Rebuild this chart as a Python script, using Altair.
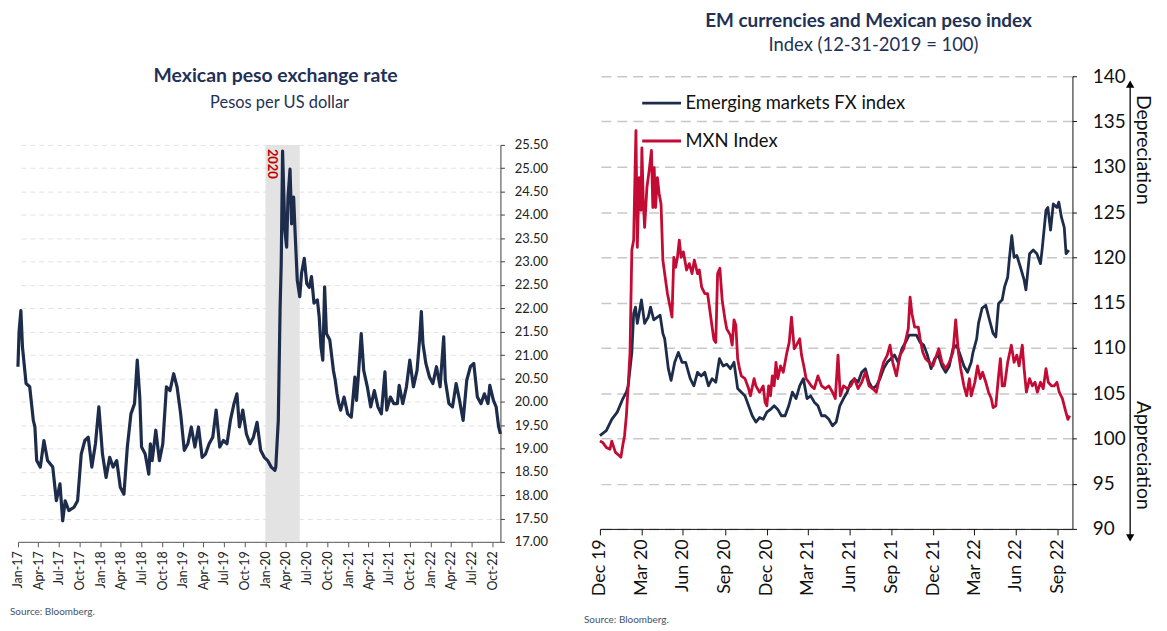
import altair as alt
import pandas as pd

# ---------------- Left panel: USD/MXN (pesos per US dollar) ----------------
# day offsets from 2017-01-01
peso_day = [0, 5, 13, 20, 36, 52, 68, 75, 83, 99,
            115, 131, 154, 170, 186, 198, 209, 225, 248, 264,
            280, 296, 311, 327, 343, 358, 374, 390, 406, 421,
            437, 453, 469, 484, 500, 516, 528, 539, 547, 563,
            579, 586, 594, 610, 626, 641, 657, 673, 689, 704,
            720, 736, 752, 767, 783, 799, 815, 830, 846, 862,
            877, 893, 909, 925, 940, 956, 969, 980, 995, 1011,
            1027, 1042, 1058, 1074, 1090, 1105, 1121, 1137, 1141, 1152,
            1160, 1165, 1171, 1181, 1189, 1195, 1204, 1211, 1220, 1226,
            1236, 1247, 1255, 1267, 1278, 1289, 1299, 1310, 1325, 1333,
            1341, 1349, 1357, 1365, 1380, 1396, 1404, 1412, 1420, 1428,
            1443, 1459, 1475, 1491, 1498, 1506, 1519, 1530, 1546, 1561,
            1577, 1593, 1608, 1624, 1632, 1648, 1663, 1679, 1687, 1703,
            1719, 1734, 1750, 1766, 1777, 1785, 1792, 1805, 1821, 1836,
            1852, 1868, 1884, 1891, 1907, 1923, 1939, 1954, 1970, 1986,
            2002, 2017, 2033, 2049, 2064, 2080, 2088, 2104, 2116, 2127,
            2135]
peso_val = [20.75, 21.5, 21.95, 21.17, 20.39, 20.32, 19.6, 19.46, 18.74, 18.6,
            19.17, 18.74, 18.6, 17.88, 18.24, 17.45, 17.88, 17.67, 17.74, 17.88,
            18.88, 19.17, 19.24, 18.6, 19.1, 19.89, 18.88, 18.38, 18.81, 18.6,
            18.74, 18.17, 18.02, 19.03, 19.74, 19.96, 20.89, 20.1, 19.03, 18.88,
            18.45, 19.1, 18.74, 19.39, 18.74, 19.1, 20.32, 20.24, 20.6, 20.32,
            19.74, 18.96, 19.1, 19.46, 19.03, 19.46, 18.81, 18.88, 19.1, 19.24,
            19.82, 19.03, 19.17, 19.1, 19.6, 19.96, 20.17, 19.46, 19.82, 19.31,
            19.1, 19.24, 19.56, 18.96, 18.81, 18.74, 18.6, 18.53, 18.6, 19.6,
            22.0, 22.96, 25.37, 23.67, 23.31, 24.38, 24.98, 23.81, 24.38, 23.67,
            22.6, 22.25, 22.75, 23.07, 22.53, 22.45, 22.68, 22.11, 22.18, 21.82,
            21.17, 20.89, 22.46, 21.46, 21.32, 20.67, 20.46, 20.17, 19.96, 19.82,
            20.1, 19.74, 19.67, 20.53, 20.03, 20.53, 21.46, 20.67, 20.32, 19.89,
            20.24, 19.89, 19.74, 20.64, 19.82, 20.1, 19.96, 19.96, 20.35, 19.96,
            20.32, 20.89, 20.32, 20.67, 21.32, 21.93, 21.25, 20.82, 20.53, 20.39,
            20.75, 20.32, 21.39, 20.46, 19.96, 19.89, 20.39, 20.03, 19.6, 20.46,
            20.75, 20.82, 20.1, 19.96, 20.17, 19.96, 20.35, 20.03, 19.89, 19.46,
            19.31]
peso_ticks = [17.0, 17.5, 18.0, 18.5, 19.0, 19.5, 20.0, 20.5, 21.0,
              21.5, 22.0, 22.5, 23.0, 23.5, 24.0, 24.5, 25.0, 25.5]
band_start = ["2020-01-01"]
band_end = ["2020-06-01"]
band_label = ["2020"]

# ---------------- Right panel: indices (12-31-2019 = 100) ----------------
# day offsets from 2019-12-31
em_day = [0, 14, 26, 38, 50, 58, 62, 70, 74, 78,
          82, 86, 91, 98, 106, 111, 118, 126, 132, 138,
          142, 150, 156, 164, 172, 180, 188, 198, 206, 214,
          222, 230, 238, 246, 254, 262, 270, 278, 286, 294,
          302, 310, 318, 326, 334, 342, 350, 358, 366, 374,
          382, 390, 398, 406, 414, 422, 430, 438, 446, 454,
          462, 470, 478, 486, 494, 502, 510, 518, 526, 534,
          542, 550, 558, 566, 574, 582, 590, 598, 606, 614,
          622, 630, 638, 646, 654, 662, 670, 678, 686, 694,
          702, 710, 718, 726, 734, 742, 750, 758, 766, 774,
          782, 790, 798, 806, 814, 818, 826, 830, 838, 846,
          854, 862, 868, 874, 882, 887, 894, 898, 903, 908,
          914, 922, 930, 934, 942, 950, 958, 966, 970, 978,
          982, 988, 994, 1002, 1006, 1012, 1018, 1022, 1028]
em_val = [100.3, 100.85, 102.1, 102.9, 104.35, 105.1, 105.8, 109.5, 113.8, 114.5,
          112.7, 113.8, 115.3, 112.7, 113.4, 114.5, 113.1, 113.4, 113.6, 111.6,
          111.0, 107.7, 106.4, 108.4, 109.5, 108.4, 108.4, 106.6, 105.8, 107.3,
          106.9, 107.3, 105.8, 106.6, 106.2, 108.8, 108.0, 108.2, 107.7, 108.4,
          105.5, 105.1, 104.7, 103.6, 102.5, 101.8, 102.3, 102.1, 102.9, 103.2,
          103.6, 103.2, 102.5, 102.5, 103.6, 105.1, 104.4, 105.8, 106.6, 104.4,
          104.7, 104.0, 103.6, 102.5, 102.5, 102.1, 101.4, 101.8, 103.6, 104.4,
          105.1, 106.2, 106.6, 106.2, 107.3, 107.7, 106.2, 105.5, 105.8, 106.6,
          107.7, 108.4, 108.8, 109.2, 108.4, 109.9, 110.6, 111.4, 111.4, 111.4,
          110.6, 110.3, 109.2, 107.7, 108.8, 109.2, 108.0, 107.3, 108.0, 109.9,
          110.3, 109.2, 108.0, 107.3, 108.4, 109.5, 111.0, 112.7, 114.4, 114.7,
          113.1, 111.6, 111.2, 114.9, 115.3, 116.7, 117.8, 120.0, 122.4, 120.0,
          120.2, 118.9, 117.5, 116.4, 120.4, 120.8, 120.4, 119.3, 121.1, 125.2,
          125.5, 123.0, 125.9, 125.5, 126.1, 124.4, 123.3, 120.4, 120.8]
mxn_day = [0, 6, 14, 22, 26, 34, 42, 46, 50, 54,
           58, 62, 66, 70, 74, 76, 79, 82, 86, 90,
           92, 95, 98, 103, 108, 113, 116, 119, 122, 126,
           130, 134, 138, 142, 148, 154, 158, 162, 166, 170,
           174, 178, 183, 190, 196, 202, 207, 214, 218, 223,
           230, 236, 242, 246, 250, 254, 258, 263, 268, 274,
           278, 286, 290, 294, 298, 302, 306, 310, 318, 326,
           330, 338, 342, 350, 358, 362, 366, 370, 374, 378,
           382, 386, 390, 396, 402, 410, 415, 420, 426, 431,
           438, 442, 447, 452, 458, 463, 470, 478, 486, 494,
           502, 510, 516, 522, 527, 534, 542, 550, 558, 566,
           574, 582, 590, 598, 606, 614, 622, 630, 636, 642,
           650, 658, 666, 671, 676, 680, 684, 690, 698, 702,
           708, 714, 722, 730, 738, 743, 750, 758, 766, 774,
           780, 786, 791, 798, 804, 810, 814, 822, 828, 834,
           839, 846, 852, 858, 862, 868, 874, 878, 882, 887,
           894, 902, 908, 914, 919, 926, 930, 935, 942, 948,
           954, 959, 966, 972, 978, 983, 990, 996, 1002, 1007,
           1014, 1020, 1026, 1030]
mxn_val = [99.7, 99.55, 99.0, 98.8, 99.7, 98.45, 98.1, 97.9, 99.2, 100.3,
           102.5, 105.8, 109.5, 120.8, 121.9, 127.0, 134.0, 121.1, 128.8, 125.2,
           132.1, 126.3, 123.3, 127.7, 129.6, 131.8, 125.5, 129.9, 125.5, 128.8,
           127.0, 125.9, 119.7, 118.2, 116.0, 114.5, 113.4, 120.0, 118.9, 120.0,
           121.9, 120.0, 120.6, 118.6, 119.3, 118.2, 119.7, 118.2, 118.6, 116.7,
           116.0, 116.0, 113.8, 112.3, 110.9, 110.6, 118.2, 118.8, 115.3, 113.2,
           112.1, 111.4, 110.3, 113.1, 112.5, 108.8, 107.7, 106.9, 106.6, 105.5,
           104.7, 106.6, 105.8, 105.1, 105.8, 104.0, 103.6, 105.8, 104.7, 106.9,
           105.8, 108.4, 106.6, 108.0, 107.3, 109.5, 110.6, 113.4, 109.9, 110.3,
           111.0, 109.2, 108.0, 106.6, 106.2, 105.8, 105.5, 106.9, 105.8, 105.5,
           105.8, 105.1, 104.4, 109.2, 104.7, 105.8, 105.5, 105.8, 106.6, 105.5,
           106.2, 107.3, 105.8, 105.5, 105.1, 106.9, 108.4, 109.2, 110.3, 108.4,
           106.9, 109.2, 109.9, 111.0, 112.1, 115.6, 113.8, 112.3, 112.3, 111.0,
           109.5, 108.8, 108.4, 108.0, 109.2, 109.9, 108.4, 107.7, 108.4, 109.5,
           113.1, 109.5, 107.7, 105.8, 104.7, 106.6, 104.7, 106.2, 108.0, 106.6,
           107.3, 106.2, 105.1, 104.4, 103.4, 103.6, 106.9, 108.8, 105.8, 105.8,
           108.4, 110.3, 108.4, 109.2, 108.0, 110.3, 107.7, 105.1, 106.6, 105.8,
           106.2, 105.1, 106.2, 105.5, 107.7, 106.2, 105.8, 105.8, 106.2, 105.1,
           104.4, 103.2, 102.1, 102.5]
series_names = ["Emerging markets FX index", "MXN Index"]
idx_tick_dates = ["2019-12-31", "2020-03-31", "2020-06-30", "2020-09-30", "2020-12-31",
                  "2021-03-31", "2021-06-30", "2021-09-30", "2021-12-31", "2022-03-31",
                  "2022-06-30", "2022-09-30"]
idx_ticks = [90, 95, 100, 105, 110, 115, 120, 125, 130, 135, 140]

# ---------------- styling ----------------
FONT = "Lato"
NAVY = "#1D2C4B"
RED = "#C30B34"
TITLE_C = "#1F3157"
SRC_C = "#44546A"


def dt(s):
    t = pd.Timestamp(s)
    return alt.DateTime(year=t.year, month=t.month, date=t.day)


def one(text):
    return pd.DataFrame({"t": [text]})


# ---------------- data frames ----------------
peso_df = pd.DataFrame({
    "date": pd.Timestamp("2017-01-01") + pd.to_timedelta(peso_day, unit="D"),
    "rate": peso_val,
})
band_df = pd.DataFrame({"start": pd.to_datetime(band_start),
                        "end": pd.to_datetime(band_end),
                        "label": band_label})
base2 = pd.Timestamp("2019-12-31")
idx_df = pd.concat([
    pd.DataFrame({"date": base2 + pd.to_timedelta(em_day, unit="D"),
                  "value": em_val, "series": series_names[0]}),
    pd.DataFrame({"date": base2 + pd.to_timedelta(mxn_day, unit="D"),
                  "value": mxn_val, "series": series_names[1]}),
], ignore_index=True)

# ---------------- left chart ----------------
W1, H1 = 485, 468          # group height; plot spans Y_TOP..H1
Y_TOP = 69
x1_scale = alt.Scale(domain=[dt("2017-01-01"), dt("2022-11-06")])
q_ticks = [alt.DateTime(year=y, month=m, date=1)
           for y in range(2017, 2023) for m in (1, 4, 7, 10)]
x1_axis = alt.Axis(values=q_ticks, format="%b-%y", labelAngle=-90,
                   labelFontSize=12.5, labelColor="#222222", labelOverlap=False,
                   labelFlush=False, domainColor="#595959", tickColor="#595959",
                   tickSize=5, grid=False, labelPadding=4)
y1 = alt.Y("rate:Q", title=None,
           scale=alt.Scale(domain=[17, 25.5], nice=False, zero=False, range=[H1, Y_TOP]),
           axis=alt.Axis(orient="right", values=peso_ticks, format=".2f",
                         grid=True, gridDash=[5, 4], gridColor="#E2E2E2",
                         domainColor="#404040", ticks=True, tickSize=4, tickColor="#404040",
                         labelPadding=10, labelFontSize=13, labelColor="#222222"))

band = alt.Chart(band_df).mark_rect(color="#E3E3E3").encode(
    x=alt.X("start:T", scale=x1_scale, axis=x1_axis, title=None), x2="end:T",
    y=alt.value(Y_TOP), y2=alt.value(H1))
band_txt = alt.Chart(band_df).mark_text(
    angle=90, align="left", baseline="middle", color="#C00000",
    fontWeight="bold", fontSize=13, font=FONT, dy=-7).encode(
    x=alt.X("start:T", scale=x1_scale, axis=x1_axis, title=None),
    y=alt.value(Y_TOP + 4), text="label:N")
peso_line = alt.Chart(peso_df).mark_line(
    color=NAVY, strokeWidth=3.2, strokeJoin="round").encode(
    x=alt.X("date:T", scale=x1_scale, axis=x1_axis, title=None), y=y1)

title1 = alt.Chart(one("Mexican peso exchange rate")).mark_text(
    fontSize=19.5, fontWeight="bold", color=TITLE_C, font=FONT, align="center",
    baseline="middle").encode(x=alt.value(259), y=alt.value(0), text="t:N")
sub1 = alt.Chart(one("Pesos per US dollar")).mark_text(
    fontSize=16.5, color=TITLE_C, font=FONT, align="center",
    baseline="middle").encode(x=alt.value(263), y=alt.value(27), text="t:N")
src1 = alt.Chart(one("Source: Bloomberg.")).mark_text(
    fontSize=10, color=SRC_C, font=FONT, align="left",
    baseline="middle").encode(x=alt.value(-8), y=alt.value(539), text="t:N")

left = alt.layer(band, peso_line, band_txt, title1, sub1, src1).properties(
    width=W1, height=H1)

# ---------------- right chart ----------------
W2, H2 = 475, 455
x2_scale = alt.Scale(domain=[dt("2019-12-31"), dt("2022-11-01")])
x2 = alt.X("date:T", scale=x2_scale, title=None,
           axis=alt.Axis(values=[dt(s) for s in idx_tick_dates], format="%b %y",
                         labelAngle=-90, labelFontSize=18, labelColor="#111111",
                         labelOverlap=False, labelFlush=False, domainColor="#111111",
                         tickColor="#111111", tickSize=6, grid=False, labelPadding=4))
y2 = alt.Y("value:Q", title=None,
           scale=alt.Scale(domain=[90, 140], nice=False, zero=False),
           axis=alt.Axis(orient="right", values=idx_ticks, grid=True,
                         gridDash=[10, 6], gridColor="#C8C8C8", gridWidth=1.5,
                         domainColor="#111111", ticks=True, tickSize=4,
                         tickColor="#111111", labelPadding=16, labelFontSize=19,
                         labelColor="#111111"))
color = alt.Color("series:N", scale=alt.Scale(domain=series_names, range=[NAVY, RED]),
                  legend=alt.Legend(orient="none", legendX=41, legendY=6, title=None,
                                    symbolType="stroke", symbolSize=1521,
                                    symbolStrokeWidth=3, labelFontSize=18.5,
                                    labelFont=FONT, labelColor="#111111",
                                    labelLimit=0, rowPadding=7, padding=0,
                                    labelOffset=3))
em_line = alt.Chart(idx_df).transform_filter(
    alt.datum.series == series_names[0]).mark_line(
    strokeWidth=2.8, strokeJoin="round").encode(x=x2, y=y2, color=color)
mxn_line = alt.Chart(idx_df).transform_filter(
    alt.datum.series == series_names[1]).mark_line(
    strokeWidth=2.8, strokeJoin="round").encode(x=x2, y=y2, color=color)

arrow_line = alt.Chart(one("")).mark_rule(
    color="black", strokeWidth=1.3).encode(
    x=alt.value(533), y=alt.value(6), y2=alt.value(466))
arrow_up = alt.Chart(one("")).mark_point(
    shape="triangle-up", filled=True, color="black", size=70, opacity=1).encode(
    x=alt.value(533), y=alt.value(8))
arrow_dn = alt.Chart(one("")).mark_point(
    shape="triangle-down", filled=True, color="black", size=70, opacity=1).encode(
    x=alt.value(533), y=alt.value(464))
dep = alt.Chart(one("Depreciation")).mark_text(
    angle=90, fontSize=19.5, color="#111111", font=FONT, align="center",
    baseline="middle").encode(x=alt.value(546), y=alt.value(74), text="t:N")
app = alt.Chart(one("Appreciation")).mark_text(
    angle=90, fontSize=19.5, color="#111111", font=FONT, align="center",
    baseline="middle").encode(x=alt.value(546), y=alt.value(381), text="t:N")

title2 = alt.Chart(one("EM currencies and Mexican peso index")).mark_text(
    fontSize=19, fontWeight="bold", color=TITLE_C, font=FONT, align="center",
    baseline="middle").encode(x=alt.value(270), y=alt.value(-56), text="t:N")
sub2 = alt.Chart(one("Index (12-31-2019 = 100)")).mark_text(
    fontSize=18.5, color=TITLE_C, font=FONT, align="center",
    baseline="middle").encode(x=alt.value(275), y=alt.value(-31), text="t:N")
src2 = alt.Chart(one("Source: Bloomberg.")).mark_text(
    fontSize=10, color=SRC_C, font=FONT, align="left",
    baseline="middle").encode(x=alt.value(-16), y=alt.value(547), text="t:N")

right = alt.layer(em_line, mxn_line, arrow_line, arrow_up, arrow_dn, dep, app,
                  title2, sub2, src2).properties(width=W2, height=H2)

chart = alt.hconcat(left, right, spacing=36).resolve_legend(
    color="independent").properties(
    padding={"left": 2, "top": 2, "right": 6, "bottom": 0}
).configure(font=FONT).configure_view(stroke=None).configure_axis(
    labelFont=FONT)

chart.save("out.html", embed_options={"renderer": "svg", "actions": False})
